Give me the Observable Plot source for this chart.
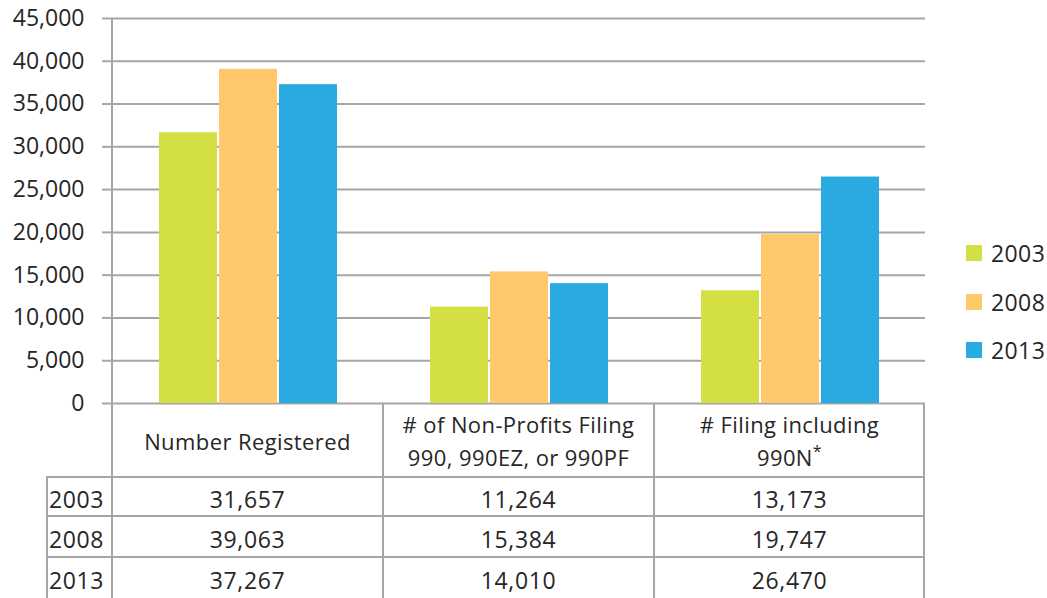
<!DOCTYPE html>
<html>
<head>
<meta charset="utf-8">
<script src="https://cdn.jsdelivr.net/npm/d3@7"></script>
<script src="https://cdn.jsdelivr.net/npm/@observablehq/plot@0.6"></script>
<style>
  html, body { margin: 0; padding: 0; background: #fff; }
  #wrap { position: relative; width: 1047px; height: 598px; overflow: hidden; font-family: "Open Sans", sans-serif; color: #262626; }
  #wrap svg { position: absolute; left: 0; top: 0; }
  .ln { position: absolute; background: #a6a6a6; }
  .cell { position: absolute; display: flex; align-items: center; justify-content: center; text-align: center; font-size: 22px; line-height: 33px; letter-spacing: 0.4px; }
  .num { font-size: 23px; letter-spacing: 0.6px; }
  .cell sup { font-size: 16px; line-height: 0; vertical-align: 0.55em; }
  .leg { position: absolute; font-size: 23px; display: flex; align-items: center; letter-spacing: 0.4px; }
  .sw { width: 16px; height: 16px; margin-right: 9px; }
</style>
</head>
<body>
<div id="wrap"></div>
<script>
// ---- data ----
const categories = ["Number Registered", "# of Non-Profits Filing 990, 990EZ, or 990PF", "# Filing including 990N*"];
const headerLines = [["Number Registered"], ["# of Non-Profits Filing", "990, 990EZ, or 990PF"], ["# Filing including", "990N<sup>*</sup>"]];
const years = ["2003", "2008", "2013"];
const values2003 = [31657, 11264, 13173];
const values2008 = [39063, 15384, 19747];
const values2013 = [37267, 14010, 26470];
const yTicks = [0, 5000, 10000, 15000, 20000, 25000, 30000, 35000, 40000, 45000];
const colors = ["#d4df44", "#ffc96b", "#29abe2"];

const seriesValues = [values2003, values2008, values2013];
const data = [];
categories.forEach((c, i) => years.forEach((y, j) => data.push({category: c, year: y, value: seriesValues[j][i]})));

const W = 1047, H = 598, mL = 112, mR = 122, mT = 18, mB = 195;
const fmt = d3.format(",");

const plot = Plot.plot({
  width: W, height: H,
  marginTop: mT, marginBottom: mB, marginLeft: mL, marginRight: mR,
  style: {fontFamily: "Open Sans", fontSize: "23px", color: "#262626", background: "transparent"},
  fx: {domain: categories, padding: 0, axis: null, label: null},
  x: {domain: years, paddingInner: 0.034, paddingOuter: 0.75, axis: null, label: null},
  y: {domain: [0, 45000], label: null},
  color: {domain: years, range: colors},
  marks: [
    Plot.gridY(yTicks, {stroke: "#a6a6a6", strokeOpacity: 1, strokeWidth: 2}),
    Plot.barY(data, {fx: "category", x: "year", y: "value", fill: "year"}),
    Plot.axisY(yTicks, {label: null, tickSize: 10, tickPadding: 18, stroke: "#a6a6a6", strokeOpacity: 1, strokeWidth: 2, tickFormat: fmt, fontSize: 23, fill: "#262626", letterSpacing: 0.8})
  ]
});

const wrap = document.getElementById("wrap");
wrap.appendChild(plot);

// ---- table below the plot, aligned with the fx scale ----
const fx = plot.scale("fx");
const bw = fx.bandwidth;
const edges = categories.map(c => fx.apply(c));
const right = edges[edges.length - 1] + bw;
const y0 = H - mB;           // baseline (0)
const rowTops = [477, 516, 557];
const leftEdge = 46;

function line(x, y, w, h) {
  const d = document.createElement("div");
  d.className = "ln";
  Object.assign(d.style, {left: x + "px", top: y + "px", width: w + "px", height: h + "px"});
  wrap.appendChild(d);
}
function cell(x, y, w, h, html, cls, extra) {
  const d = document.createElement("div");
  d.className = "cell" + (cls ? " " + cls : "");
  Object.assign(d.style, {left: x + "px", top: y + "px", width: w + "px", height: h + "px"}, extra || {});
  d.innerHTML = "<span>" + html + "</span>";
  wrap.appendChild(d);
}

// vertical axis line + column dividers
line(mL - 1, mT, 2, H - mT);
edges.slice(1).forEach(e => line(e - 1, y0, 2, H - y0));
line(right - 2, y0, 2, H - y0);
line(leftEdge, rowTops[0], 2, H - rowTops[0]);
rowTops.forEach(t => line(leftEdge, t - 1, right - leftEdge, 2));

// header
categories.forEach((c, i) => {
  cell(edges[i], y0 + 2, bw, rowTops[0] - y0 - 2, headerLines[i].join("<br>"));
});
// rows
years.forEach((yr, j) => {
  const top = rowTops[j];
  const h = (j < 2 ? rowTops[j + 1] : H) - top;
  cell(leftEdge + 2, top + 3, mL - leftEdge - 4, h, yr, "num", {justifyContent: "flex-start", paddingLeft: "1px"});
  categories.forEach((c, i) => cell(edges[i], top + 3, bw, h, fmt(seriesValues[j][i]), "num"));
});

// legend
const legTops = [253, 302, 350];
years.forEach((yr, j) => {
  const d = document.createElement("div");
  d.className = "leg";
  Object.assign(d.style, {left: "966px", top: (legTops[j] - 16) + "px", height: "32px"});
  d.innerHTML = `<span class="sw" style="background:${colors[j]}"></span><span>${yr}</span>`;
  wrap.appendChild(d);
});
</script>
</body>
</html>
